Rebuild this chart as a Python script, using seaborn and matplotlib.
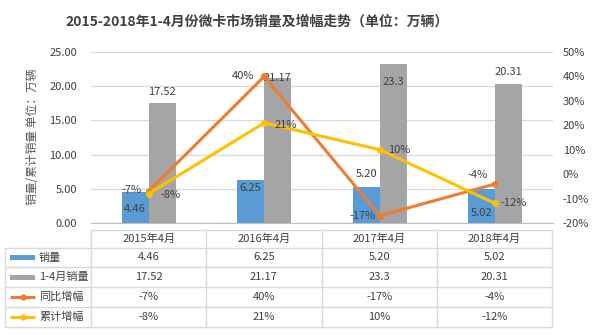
import numpy as np
import pandas as pd
import matplotlib
matplotlib.use("Agg")
import matplotlib.pyplot as plt
import seaborn as sns
from matplotlib.patches import Rectangle

# ---- data ----
categories = ["2015年4月", "2016年4月", "2017年4月", "2018年4月"]
sales = [4.46, 6.25, 5.20, 5.02]
sales_labels = ["4.46", "6.25", "5.20", "5.02"]
cum_sales = [17.52, 21.17, 23.3, 20.31]
cum_labels = ["17.52", "21.17", "23.3", "20.31"]
yoy = [-7, 40, -17, -4]          # 同比增幅 (%)
cum_growth = [-8, 21, 10, -12]   # 累计增幅 (%)
series_names = ["销量", "1-4月销量", "同比增幅", "累计增幅"]
left_ticks = [0, 5, 10, 15, 20, 25]
right_ticks = [-20, -10, 0, 10, 20, 30, 40, 50]
title = "2015-2018年1-4月份微卡市场销量及增幅走势（单位：万辆）"
ylabel = "销量/累计销量 单位：万辆"

# ---- style ----
BLUE, GRAY, ORANGE, YELLOW = "#5B9BD5", "#A5A5A5", "#ED7D31", "#FFC000"
TXT = "#404040"
GRID = "#D9D9D9"
sns.set_style("white")
plt.rcParams["font.family"] = ["Noto Sans CJK SC", "DejaVu Sans"]

W, H = 600, 335
fig = plt.figure(figsize=(W / 100, H / 100), dpi=100)
fig.patch.set_facecolor("white")

L, R, T, B = 91, 553, 52, 223
ax = fig.add_axes([L / W, 1 - B / H, (R - L) / W, (B - T) / H])

df = pd.DataFrame({
    "月份": categories * 2,
    "系列": [series_names[0]] * 4 + [series_names[1]] * 4,
    "value": sales + cum_sales,
})
sns.barplot(data=df, x="月份", y="value", hue="系列", palette=[BLUE, GRAY],
            width=0.47, saturation=1, ax=ax, legend=False, zorder=2,
            linewidth=0)
ax.set_ylim(0, 25)
ax.set_yticks(left_ticks)
ax.set_yticklabels([f"{v:.2f}" for v in left_ticks])
ax.set_xlim(-0.5, 3.5)
ax.set_xticks([])
ax.set_xlabel("")
ax.set_ylabel("")
for s in ["left", "right", "top"]:
    ax.spines[s].set_visible(False)
ax.spines["bottom"].set_color("#BFBFBF")
ax.grid(axis="y", color=GRID, lw=0.9, zorder=0)
ax.set_axisbelow(True)
ax.tick_params(axis="y", length=0, pad=10, labelsize=8, labelcolor=TXT)

# bar labels (offset pixels, styling)
blue_off = [-17, -8, 13, -24]
gray_off = [11, 0, -18, 12]
for cont, labels, offs in [(ax.containers[0], sales_labels, blue_off),
                           (ax.containers[1], cum_labels, gray_off)]:
    for bar, lab, off in zip(cont, labels, offs):
        ax.annotate(lab, (bar.get_x() + bar.get_width() / 2, bar.get_height()),
                    xytext=(0, off), textcoords="offset pixels",
                    ha="center", va="center", fontsize=8, color=TXT, zorder=5)

ax2 = ax.twinx()
ax2.set_position(ax.get_position())
xs = np.arange(len(categories))
sns.lineplot(x=xs, y=yoy, ax=ax2, color=ORANGE, lw=2.2, marker="o",
             markersize=5, markeredgewidth=0, zorder=3)
sns.lineplot(x=xs, y=cum_growth, ax=ax2, color=YELLOW, lw=2.2, marker="o",
             markersize=5, markeredgewidth=0, zorder=3)
ax2.set_ylim(-20, 50)
ax2.set_yticks(right_ticks)
ax2.set_yticklabels([f"{v}%" for v in right_ticks])
ax2.tick_params(axis="y", length=0, pad=7, labelsize=8, labelcolor=TXT)
for s in ["left", "right", "top", "bottom"]:
    ax2.spines[s].set_visible(False)
ax2.set_xlim(-0.5, 3.5)

yoy_off = [(-17, 1), (-21, 0), (-17, 0), (-18, 9)]
cum_off = [(22, -1), (22, -2), (20, 0), (18, 0)]
for vals, offs in [(yoy, yoy_off), (cum_growth, cum_off)]:
    for x, v, (dx, dy) in zip(xs, vals, offs):
        ax2.annotate(f"{v}%", (x, v), xytext=(dx, dy), textcoords="offset pixels",
                     ha="center", va="center", fontsize=8, color=TXT, zorder=6)

# title and y label
fig.text(257 / W, 1 - 22 / H, title, ha="center", va="center",
         fontsize=10, fontweight="bold", color=TXT)
fig.text(33 / W, 1 - 137 / H, ylabel, ha="center", va="center",
         rotation=90, fontsize=8.5, color="#595959")

# ---- data table ----
tab = fig.add_axes([0, 0, 1, 1], facecolor="none")
tab.set_xlim(0, W)
tab.set_ylim(H, 0)
tab.axis("off")
col_edges = np.linspace(L, R - 1, len(categories) + 1)
row_edges = [230, 248, 267, 287, 307, 327]
x_leg = 5
for xe in col_edges:
    tab.plot([xe, xe], [row_edges[0], row_edges[-1]], color=GRID, lw=1)
tab.plot([x_leg, x_leg], [row_edges[1], row_edges[-1]], color=GRID, lw=1)
tab.plot([col_edges[0], col_edges[-1]], [row_edges[0]] * 2, color=GRID, lw=1)
for ye in row_edges[1:]:
    tab.plot([x_leg, col_edges[-1]], [ye, ye], color=GRID, lw=1)

centers = (col_edges[:-1] + col_edges[1:]) / 2
hdr_y = (row_edges[0] + row_edges[1]) / 2
for cx, c in zip(centers, categories):
    tab.text(cx, hdr_y, c, ha="center", va="center", fontsize=8, color=TXT)

rows = [
    [f"{v}" for v in sales_labels],
    [f"{v}" for v in cum_labels],
    [f"{v}%" for v in yoy],
    [f"{v}%" for v in cum_growth],
]
colors = [BLUE, GRAY, ORANGE, YELLOW]
for i, (name, vals, col) in enumerate(zip(series_names, rows, colors)):
    yc = (row_edges[i + 1] + row_edges[i + 2]) / 2
    if i < 2:
        tab.add_patch(Rectangle((10, yc - 2.5), 25, 5, color=col, lw=0))
    else:
        tab.plot([10, 35], [yc, yc], color=col, lw=2.2, solid_capstyle="butt")
        tab.plot([22.5], [yc], marker="o", color=col, markersize=4.5, markeredgewidth=0)
    tab.text(39, yc, name, ha="left", va="center", fontsize=8, color=TXT)
    for cx, v in zip(centers, vals):
        tab.text(cx, yc, v, ha="center", va="center", fontsize=8, color=TXT)

fig.savefig("out.png", dpi=100, facecolor="white")
